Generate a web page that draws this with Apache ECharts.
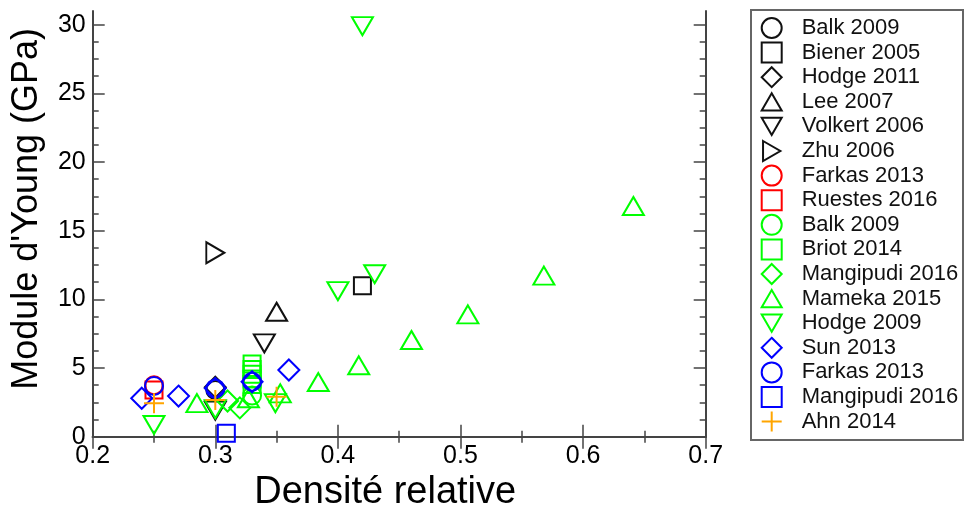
<!DOCTYPE html>
<html>
<head>
<meta charset="utf-8">
<script src="https://cdn.jsdelivr.net/npm/echarts@6/dist/echarts.min.js"></script>
<style>
html,body{margin:0;padding:0;background:#fff;}
#chart{width:964px;height:506px;}
</style>
</head>
<body>
<div id="chart"></div>
<script>
// ---- data (x = densité relative, y = module d'Young en GPa) ----
const balk2009Black     = [[0.30, 3.4]];
const biener2005        = [[0.42, 11.0]];
const hodge2011         = [[0.30, 3.6]];
const lee2007           = [[0.35, 9.1]];
const volkert2006       = [[0.34, 6.8], [0.30, 1.9]];
const zhu2006           = [[0.30, 13.4]];
const farkas2013Red     = [[0.25, 3.75]];
const ruestes2016       = [[0.25, 3.4]];
const balk2009Green     = [[0.33, 3.0]];
const briot2014         = [[0.33, 3.8], [0.33, 4.2], [0.33, 4.55], [0.33, 4.9], [0.33, 5.3]];
const mangipudi2016Grn  = [[0.32, 2.1], [0.31, 2.6]];
const mameka2015        = [[0.285, 2.45], [0.327, 2.8], [0.353, 3.16], [0.384, 3.98], [0.417, 5.2], [0.46, 7.04], [0.506, 8.91], [0.568, 11.73], [0.641, 16.8]];
const hodge2009         = [[0.25, 0.85], [0.30, 2.0], [0.349, 2.45], [0.40, 10.6], [0.42, 29.9], [0.43, 11.83]];
const sun2013           = [[0.24, 2.8], [0.27, 2.96], [0.30, 3.52], [0.33, 4.0], [0.36, 4.86]];
const farkas2013Blue    = [[0.25, 3.7], [0.30, 3.5], [0.33, 4.0]];
const mangipudi2016Blue = [[0.309, 0.25]];
const ahn2014           = [[0.25, 2.43], [0.30, 2.67], [0.35, 2.91]];

const yMajorTicks = [0, 5, 10, 15, 20, 25, 30];
const yMinorTicks = [1.25, 2.5, 3.75, 6.25, 7.5, 8.75, 11.25, 12.5, 13.75, 16.25, 17.5, 18.75, 21.25, 22.5, 23.75, 26.25, 27.5, 28.75];

// ---- styling ----
const BLACK = '#111', RED = '#ff0000', GREEN = '#00ff00', BLUE = '#0000ff', ORANGE = '#ffa500';
const SYM = {
  circle: {symbol: 'circle', size: 18},
  square: {symbol: 'rect', size: 17},
  diamond: {symbol: 'diamond', size: [21, 21]},
  up: {symbol: 'path://M5,0 L10,8.66 L0,8.66 Z', size: [21, 18]},
  down: {symbol: 'path://M0,0 L10,0 L5,8.66 Z', size: [21, 18]},
  right: {symbol: 'path://M0,0 L8.66,5 L0,10 Z', size: [18, 21]},
  plus: {symbol: 'path://M5,0 L5,10 M0,5 L10,5', size: [20, 20]}
};

const seriesDefs = [
  ['Balk 2009#1', balk2009Black, 'circle', BLACK],
  ['Biener 2005', biener2005, 'square', BLACK],
  ['Hodge 2011', hodge2011, 'diamond', BLACK],
  ['Lee 2007', lee2007, 'up', BLACK],
  ['Volkert 2006', volkert2006, 'down', BLACK],
  ['Zhu 2006', zhu2006, 'right', BLACK],
  ['Farkas 2013#1', farkas2013Red, 'circle', RED],
  ['Ruestes 2016', ruestes2016, 'square', RED],
  ['Balk 2009#2', balk2009Green, 'circle', GREEN],
  ['Briot 2014', briot2014, 'square', GREEN],
  ['Mangipudi 2016#1', mangipudi2016Grn, 'diamond', GREEN],
  ['Mameka 2015', mameka2015, 'up', GREEN],
  ['Hodge 2009', hodge2009, 'down', GREEN],
  ['Sun 2013', sun2013, 'diamond', BLUE],
  ['Farkas 2013#2', farkas2013Blue, 'circle', BLUE],
  ['Mangipudi 2016#2', mangipudi2016Blue, 'square', BLUE],
  ['Ahn 2014', ahn2014, 'plus', ORANGE]
];

const series = seriesDefs.map(([name, data, sym, color]) => ({
  name: name,
  type: 'scatter',
  data: data,
  symbol: SYM[sym].symbol,
  symbolSize: SYM[sym].size,
  symbolKeepAspect: false,
  itemStyle: {color: 'rgba(0,0,0,0)', borderColor: color, borderWidth: 2, opacity: 1},
  emphasis: {disabled: true},
  animation: false
}));

const AX = '#444';
const FONT = 'Liberation Sans, Arial, sans-serif';
const tickFont = {fontFamily: FONT, fontSize: 25, color: '#000'};

const chart = echarts.init(document.getElementById('chart'), null, {renderer: 'canvas'});
chart.setOption({
  backgroundColor: '#fff',
  animation: false,
  grid: {left: 92.7, right: 258.3, top: 11, bottom: 69.3, containLabel: false, outerBoundsMode: 'none'},
  xAxis: [
    {
      type: 'value', min: 0.2, max: 0.7, interval: 0.1, position: 'bottom',
      name: 'Densité relative', nameLocation: 'middle', nameGap: 33,
      nameTextStyle: {fontFamily: FONT, fontSize: 38, color: '#000', padding: [0, 28, 0, 0]},
      axisLine: {show: true, lineStyle: {color: AX, width: 2}},
      axisTick: {show: true, inside: true, length: 12, lineStyle: {color: AX, width: 1.5}},
      minorTick: {show: true, splitNumber: 2, length: 6, lineStyle: {color: AX, width: 1.5}},
      axisLabel: Object.assign({margin: 7, formatter: v => v.toFixed(1)}, tickFont),
      splitLine: {show: false}
    },
    {
      type: 'value', min: 0.2, max: 0.7, interval: 0.1, position: 'top',
      axisLine: {show: true, lineStyle: {color: AX, width: 2}},
      axisTick: {show: true, inside: true, length: 12, lineStyle: {color: AX, width: 1.5}},
      minorTick: {show: true, splitNumber: 2, length: 6, lineStyle: {color: AX, width: 1.5}},
      axisLabel: {show: false},
      splitLine: {show: false}
    }
  ],
  yAxis: [
    {
      type: 'value', min: 0, max: 31, position: 'left',
      name: "Module d'Young (GPa)", nameLocation: 'middle', nameGap: 48,
      nameTextStyle: {fontFamily: FONT, fontSize: 36, color: '#000', padding: [0, 0, 0, 30]},
      axisLine: {show: true, lineStyle: {color: AX, width: 2}},
      axisTick: {show: true, inside: true, length: 12, customValues: yMajorTicks, lineStyle: {color: AX, width: 1.5}},
      axisLabel: Object.assign({margin: 7, customValues: yMajorTicks}, tickFont),
      splitLine: {show: false}
    },
    {
      type: 'value', min: 0, max: 31, position: 'left',
      axisLine: {show: false},
      axisTick: {show: true, inside: true, length: 6, customValues: yMinorTicks, lineStyle: {color: AX, width: 1.5}},
      axisLabel: {show: false},
      splitLine: {show: false}
    },
    {
      type: 'value', min: 0, max: 31, position: 'right',
      axisLine: {show: true, lineStyle: {color: AX, width: 2}},
      axisTick: {show: true, inside: true, length: 12, customValues: yMajorTicks, lineStyle: {color: AX, width: 1.5}},
      axisLabel: {show: false},
      splitLine: {show: false}
    },
    {
      type: 'value', min: 0, max: 31, position: 'right',
      axisLine: {show: false},
      axisTick: {show: true, inside: true, length: 6, customValues: yMinorTicks, lineStyle: {color: AX, width: 1.5}},
      axisLabel: {show: false},
      splitLine: {show: false}
    }
  ],
  legend: {
    orient: 'vertical',
    left: 760.7, top: 15.7,
    padding: 0,
    itemWidth: 20, itemHeight: 20, itemGap: 0,
    selectedMode: false,
    symbolKeepAspect: true,
    formatter: name => name.split('#')[0],
    textStyle: {fontFamily: FONT, fontSize: 22, color: '#111', lineHeight: 24.6, padding: [0, 0, 0, 15]},
    data: seriesDefs.map(d => d[0])
  },
  graphic: [
    {type: 'rect', shape: {x: 751, y: 10, width: 212, height: 430}, style: {fill: 'none', stroke: '#666', lineWidth: 2}, silent: true}
  ],
  series: series
});
</script>
</body>
</html>
